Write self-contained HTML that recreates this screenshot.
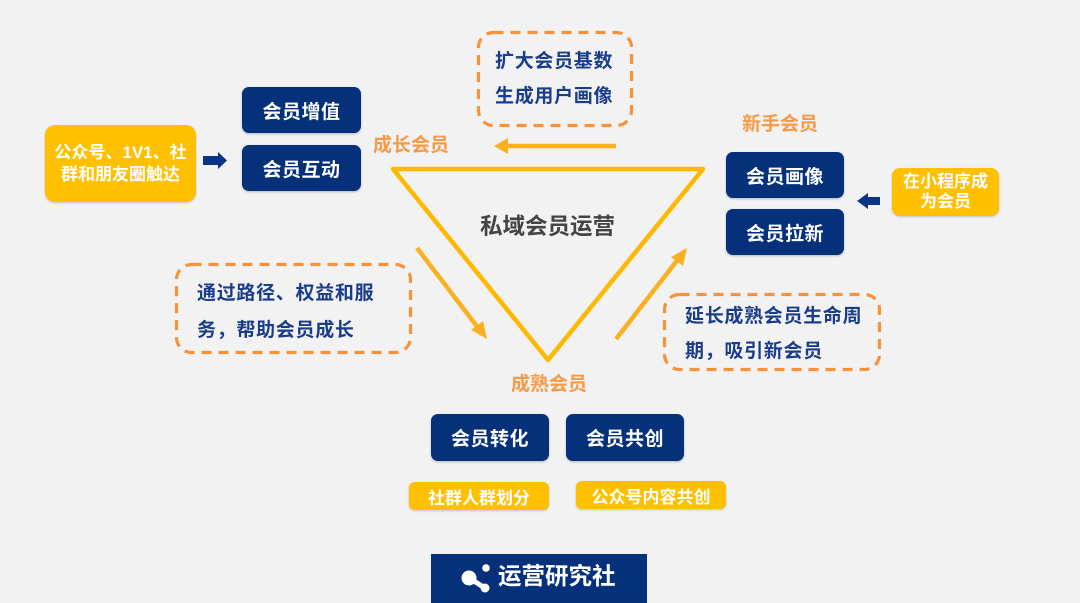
<!DOCTYPE html>
<html>
<head>
<meta charset="utf-8">
<style>
  html, body { margin:0; padding:0; }
  body { width:1080px; height:603px; background:#f2f2f2; position:relative; overflow:hidden;
         font-family:"Liberation Sans","Noto Sans CJK SC","WenQuanYi Zen Hei",sans-serif; }
  .abs { position:absolute; }
  .navy { position:absolute; background:#05307a; border-radius:7px; color:#fff; font-weight:bold;
          font-size:19px; display:flex; align-items:center; justify-content:center;
          box-shadow:0 1px 2px rgba(0,0,0,0.25); letter-spacing:0.5px; }
  .yel { position:absolute; background:#ffc000; border-radius:6px; color:#fff; font-weight:bold;
         display:flex; align-items:center; justify-content:center; text-align:center;
         box-shadow:0 1px 2px rgba(0,0,0,0.2); }
  .lbl { position:absolute; color:#f79a45; font-size:19px; font-weight:bold; white-space:nowrap; line-height:1; }
  .dtxt { position:absolute; color:#1a3d8a; font-size:19px; font-weight:bold; white-space:nowrap; line-height:1; letter-spacing:0.7px; }
</style>
</head>
<body>

<svg class="abs" style="left:0;top:0" width="1080" height="603" viewBox="0 0 1080 603">
  <!-- dashed boxes -->
  <rect x="478.5" y="32.5" width="153" height="93" rx="15" ry="15" fill="none" stroke="#f7923a" stroke-width="3.2" stroke-dasharray="10 7"/>
  <rect x="176.5" y="264.5" width="234" height="88" rx="15" ry="15" fill="none" stroke="#f7923a" stroke-width="3.2" stroke-dasharray="10 7"/>
  <rect x="664.5" y="294.5" width="215" height="75" rx="15" ry="15" fill="none" stroke="#f7923a" stroke-width="3.2" stroke-dasharray="10 7"/>

  <!-- triangle -->
  <polygon points="393,169 703,169 548,360" fill="none" stroke="#ffb800" stroke-width="4.5" stroke-linejoin="round"/>

  <!-- top arrow (left pointing) -->
  <line x1="616" y1="146" x2="505" y2="146" stroke="#fbb024" stroke-width="4.5"/>
  <polygon points="494,146 508,138 508,154" fill="#fbb024"/>

  <!-- left diagonal arrow -->
  <line x1="417" y1="248" x2="479" y2="329" stroke="#fbb024" stroke-width="4.5"/>
  <polygon points="487,339 471,330 483,321" fill="#fbb024"/>

  <!-- right diagonal arrow -->
  <line x1="616" y1="339" x2="679" y2="258" stroke="#fbb024" stroke-width="4.5"/>
  <polygon points="687,248 683,266 671,257" fill="#fbb024"/>

  <!-- navy block arrows -->
  <polygon points="203,156 218,156 218,152 227,160.5 218,169 218,165 203,165" fill="#0a3586"/>
  <polygon points="880,197 868,197 868,193 857,201 868,209 868,205 880,205" fill="#0a3586"/>

  <!-- logo -->
  <rect x="431" y="554" width="216" height="49" fill="#05307a"/>
  <circle cx="469" cy="578" r="7.5" fill="#fff"/>
  <circle cx="486" cy="568" r="3.8" fill="#fff"/>
  <circle cx="485" cy="588" r="4.5" fill="#fff"/>
  <line x1="469" y1="578" x2="485" y2="588" stroke="#fff" stroke-width="5"/>
</svg>

<!-- left yellow -->
<div class="yel" style="left:45px;top:125px;width:151px;height:77px;border-radius:10px;font-size:17px;line-height:22px;">公众号、1V1、社<br>群和朋友圈触达</div>

<!-- left navy -->
<div class="navy" style="left:242px;top:87px;width:119px;height:46px;">会员增值</div>
<div class="navy" style="left:242px;top:145px;width:119px;height:46px;">会员互动</div>

<div class="lbl" style="left:373px;top:136px;">成长会员</div>

<!-- top dashed text -->
<div class="dtxt" style="left:495px;top:52px;">扩大会员基数</div>
<div class="dtxt" style="left:495px;top:87px;">生成用户画像</div>

<div class="lbl" style="left:742px;top:115px;">新手会员</div>

<div class="navy" style="left:726px;top:152px;width:118px;height:46px;">会员画像</div>
<div class="navy" style="left:726px;top:209px;width:118px;height:46px;">会员拉新</div>

<div class="yel" style="left:892px;top:168px;width:107px;height:48px;border-radius:8px;font-size:17px;line-height:20px;">在小程序成<br>为会员</div>

<!-- center -->
<div class="abs" style="left:480px;top:216px;color:#444;font-size:22.5px;font-weight:bold;line-height:1;white-space:nowrap;">私域会员运营</div>

<!-- left dashed text -->
<div class="dtxt" style="left:197px;top:284px;">通过路径、权益和服</div>
<div class="dtxt" style="left:197px;top:321px;">务，帮助会员成长</div>

<!-- right dashed text -->
<div class="dtxt" style="left:685px;top:307px;">延长成熟会员生命周</div>
<div class="dtxt" style="left:685px;top:342px;">期，吸引新会员</div>

<div class="lbl" style="left:511px;top:375px;">成熟会员</div>

<div class="navy" style="left:431px;top:414px;width:118px;height:47px;">会员转化</div>
<div class="navy" style="left:566px;top:414px;width:118px;height:47px;">会员共创</div>

<div class="yel" style="left:409px;top:482px;width:140px;height:28px;font-size:17px;">社群人群划分</div>
<div class="yel" style="left:576px;top:481px;width:150px;height:28px;font-size:17px;">公众号内容共创</div>

<div class="abs" style="left:498px;top:565px;color:#fff;font-size:23.5px;font-weight:bold;line-height:1;white-space:nowrap;">运营研究社</div>

</body>
</html>
